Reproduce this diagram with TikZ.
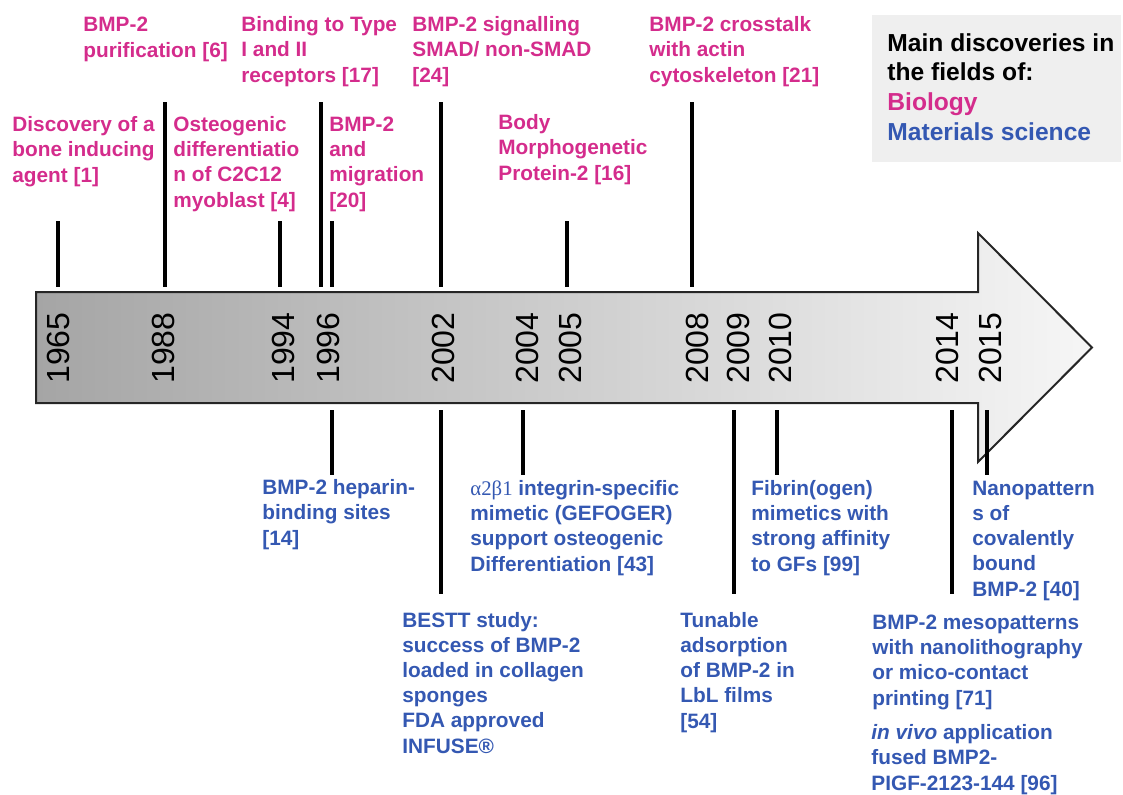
\documentclass[tikz,border=0pt]{standalone}
\usepackage{fontspec}
\setmainfont{Liberation Sans}
\newfontfamily\greekfont{Liberation Serif}
\usepackage{tikz}

\definecolor{bio}{RGB}{212,44,140}
\definecolor{mat}{RGB}{52,88,178}
\definecolor{ardark}{RGB}{165,165,165}
\definecolor{arlight}{RGB}{246,246,246}
\definecolor{legendbg}{RGB}{239,239,239}

% labels sit on the baseline of their last line
\tikzset{
  lbl/.style={inner sep=0pt, anchor=base west, align=left,
    font=\bfseries\fontsize{10.4}{12.6}\selectfont},
  biolbl/.style={lbl, text=bio},
  matlbl/.style={lbl, text=mat},
  year/.style={inner sep=0pt, anchor=center, rotate=90,
    font=\fontsize{16}{16}\selectfont},
  tick/.style={line width=2pt},
}

\begin{document}
\begin{tikzpicture}[x=0.5pt,y=-0.5pt]
\useasboundingbox (0,0) rectangle (1123,794);

% timeline arrow
\path[draw=black!85, line width=1pt, left color=ardark, right color=arlight]
  (36,292) -- (978,292) -- (978,233) -- (1092,347.5) -- (978,462)
  -- (978,403) -- (36,403) -- cycle;

% years
\foreach \x/\yr in {58/1965,163/1988,283/1994,328/1996,443/2002,527/2004,
    570/2005,697/2008,738/2009,780/2010,947/2014,990/2015}
  \node[year] (y\yr) at (\x,348) {\yr};

% ticks above
\foreach \x in {58,280,332,567}
  \draw[tick] (\x,221) -- (\x,287);
\foreach \x in {165,321,441,692}
  \draw[tick] (\x,102) -- (\x,287);
% ticks below
\foreach \x in {332,523,777,987}
  \draw[tick] (\x,410) -- (\x,475);
\foreach \x in {441,734,952}
  \draw[tick] (\x,410) -- (\x,594);

% biology
\node[biolbl] (purif) at (83,57) {BMP-2\\purification [6]};
\node[biolbl] (recept) at (241,82) {Binding to Type\\I and II\\receptors [17]};
\node[biolbl] (smad) at (412,82) {BMP-2 signalling\\SMAD/ non-SMAD\\{[24]}};
\node[biolbl] (actin) at (649,82) {BMP-2 crosstalk\\with actin\\cytoskeleton [21]};
\node[biolbl] (bone) at (12,182) {Discovery of a\\bone inducing\\agent [1]};
\node[biolbl] (osteo) at (173,207) {Osteogenic\\differentiatio\\n of C2C12\\myoblast [4]};
\node[biolbl] (migr) at (329,207) {BMP-2\\and\\migration\\{[20]}};
\node[biolbl] (bodyp) at (498,180) {Body\\Morphogenetic\\Protein-2 [16]};

% materials science
\node[matlbl] (hepar) at (262,545) {BMP-2 heparin-\\binding sites\\{[14]}};
\node[matlbl] (gefog) at (470,571) {{\greekfont\mdseries α2β1} integrin-specific\\mimetic (GEFOGER)\\support osteogenic\\Differentiation [43]};
\node[matlbl] (bestt) at (402,753) {BESTT study:\\success of BMP-2\\loaded in collagen\\sponges\\FDA approved\\INFUSE®};
\node[matlbl] (fibrin) at (751,571) {Fibrin(ogen)\\mimetics with\\strong affinity\\to GFs [99]};
\node[matlbl] (lbl) at (680,728) {Tunable\\adsorption\\of BMP-2 in\\LbL films\\{[54]}};
\node[matlbl] (nanop) at (972,596) {Nanopattern\\s of\\covalently\\bound\\BMP-2 [40]};
\node[matlbl] (meso) at (872,705) {BMP-2 mesopatterns\\with nanolithography\\or mico-contact\\printing [71]};
\node[matlbl] (vivo) at (871,790) {\textit{in vivo} application\\fused BMP2-\\PIGF-2123-144 [96]};

% legend
\fill[legendbg] (872,15) rectangle (1121,162);
\node[lbl, font=\bfseries\fontsize{12.3}{14.8}\selectfont] (legend) at (887,140)
  {Main discoveries in\\the fields of:\\\textcolor{bio}{Biology}\\\textcolor{mat}{Materials science}};
\end{tikzpicture}
\end{document}
